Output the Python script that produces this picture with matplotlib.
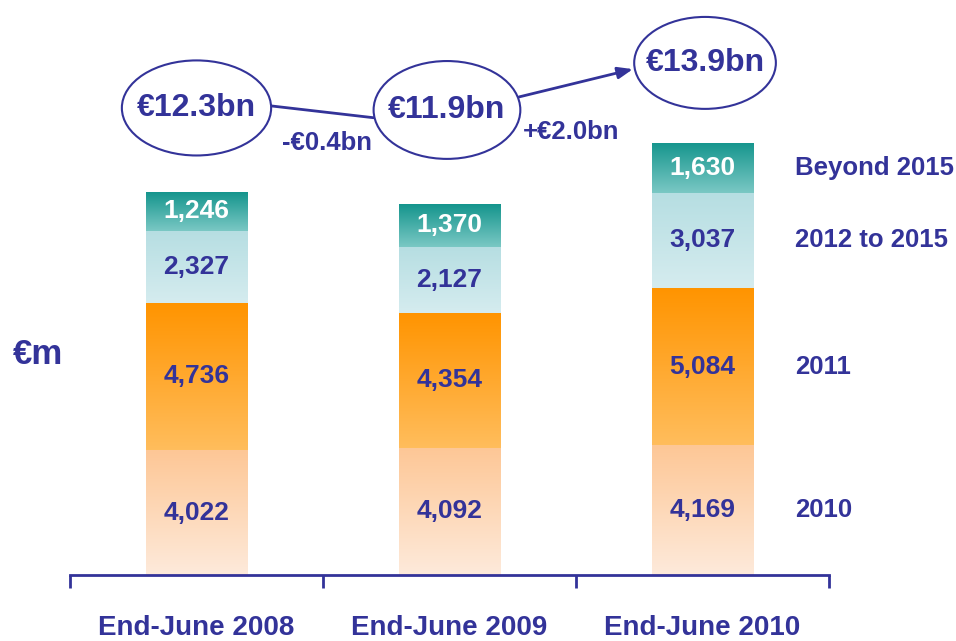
import numpy as np
import matplotlib
matplotlib.use("Agg")
import matplotlib.pyplot as plt
from matplotlib.colors import LinearSegmentedColormap
from matplotlib.patches import Ellipse

# data (EUR m)
periods = ["End-June 2008", "End-June 2009", "End-June 2010"]
buckets = ["2010", "2011", "2012 to 2015", "Beyond 2015"]
v2010 = [4022, 4092, 4169]
v2011 = [4736, 4354, 5084]
v2012_15 = [2327, 2127, 3037]
vbeyond = [1246, 1370, 1630]
totals_txt = ["€12.3bn", "€11.9bn", "€13.9bn"]
changes_txt = ["-€0.4bn", "+€2.0bn"]

navy = "#333399"
# gradient (top colour, bottom colour) per bucket
grads = [("#fdc796", "#feeadb"),
         ("#ff9400", "#ffbd5c"),
         ("#b6dee2", "#d5ecef"),
         ("#15958d", "#7ac8c4")]
txtcol = [navy, navy, navy, "white"]

plt.rcParams['font.family'] = ['Liberation Sans', 'DejaVu Sans']
plt.rcParams['font.weight'] = 'bold'

fig = plt.figure(figsize=(9.56, 6.41), dpi=100)
ax = fig.add_axes([70/956, 66/641, 759/956, 575/641])

x = np.arange(len(periods))
series = [v2010, v2011, v2012_15, vbeyond]
bottom = np.zeros(len(periods))
for k, vals in enumerate(series):
    bars = ax.bar(x, vals, 0.40, bottom=bottom, color="none", edgecolor="none")
    cmap = LinearSegmentedColormap.from_list("g%d" % k, [grads[k][1], grads[k][0]])
    for i, b in enumerate(bars):
        x0, y0, w, h = b.get_x(), b.get_y(), b.get_width(), b.get_height()
        im = ax.imshow(np.linspace(0, 1, 128).reshape(-1, 1), cmap=cmap, origin="lower",
                       extent=[x0, x0 + w, y0, y0 + h], aspect="auto", zorder=1)
        im.set_clip_path(b)
        ax.text(x0 + w/2, y0 + h/2, f"{vals[i]:,}", ha="center", va="center",
                fontsize=19, color=txtcol[k], zorder=3)
        if i == len(periods) - 1:
            ax.text(2.366, y0 + h/2, buckets[k], ha="left", va="center",
                    fontsize=18.5, color=navy)
    bottom += np.array(vals)

ax.set_xlim(-0.5, 2.5)
ax.set_ylim(0, 18510)

# total bubbles
bub_x = [0.0, 0.99, 2.01]
bub_y = [15035, 14970, 16485]
bub_w = [0.59, 0.58, 0.56]
bub_h = [3060, 3150, 2960]
for i in range(3):
    ax.add_patch(Ellipse((bub_x[i], bub_y[i]), bub_w[i], bub_h[i], facecolor="white",
                         edgecolor=navy, lw=1.5, zorder=4))
    ax.text(bub_x[i], bub_y[i], totals_txt[i], ha="center", va="center",
            fontsize=23, color=navy, zorder=5)

ax.annotate("", xy=(bub_x[1] - bub_w[1]/2, bub_y[1] - 250),
            xytext=(bub_x[0] + bub_w[0]/2 - 0.005, bub_y[0] + 70),
            arrowprops=dict(arrowstyle="-", color=navy, lw=2, shrinkA=0, shrinkB=0), zorder=3)
ax.annotate("", xy=(bub_x[2] - bub_w[2]/2 - 0.005, bub_y[2] - 200),
            xytext=(bub_x[1] + bub_w[1]/2 - 0.005, bub_y[1] + 420),
            arrowprops=dict(arrowstyle="-|>,head_length=0.9,head_width=0.35", color=navy,
                            lw=2, shrinkA=0, shrinkB=0), zorder=3)
ax.text(0.516, 13900, changes_txt[0], ha="center", va="center", fontsize=18.5, color=navy)
ax.text(1.48, 14260, changes_txt[1], ha="center", va="center", fontsize=18.5, color=navy)

# axes styling
for s in ["top", "right", "left"]:
    ax.spines[s].set_visible(False)
ax.spines["bottom"].set_color(navy)
ax.spines["bottom"].set_linewidth(2)
ax.set_yticks([])
ax.set_xticks([-0.5, 0.5, 1.5, 2.5])
ax.set_xticklabels([])
ax.tick_params(axis="x", which="major", length=9, width=2, color=navy, direction="out")
ax.set_xticks(x, minor=True)
ax.set_xticklabels(periods, minor=True)
ax.tick_params(axis="x", which="minor", length=0, pad=29, labelsize=20, labelcolor=navy)

fig.text(38/956, 1 - 355/641, "€m", ha="center", va="center", fontsize=25, color=navy)

plt.savefig("out.png", dpi=100)
